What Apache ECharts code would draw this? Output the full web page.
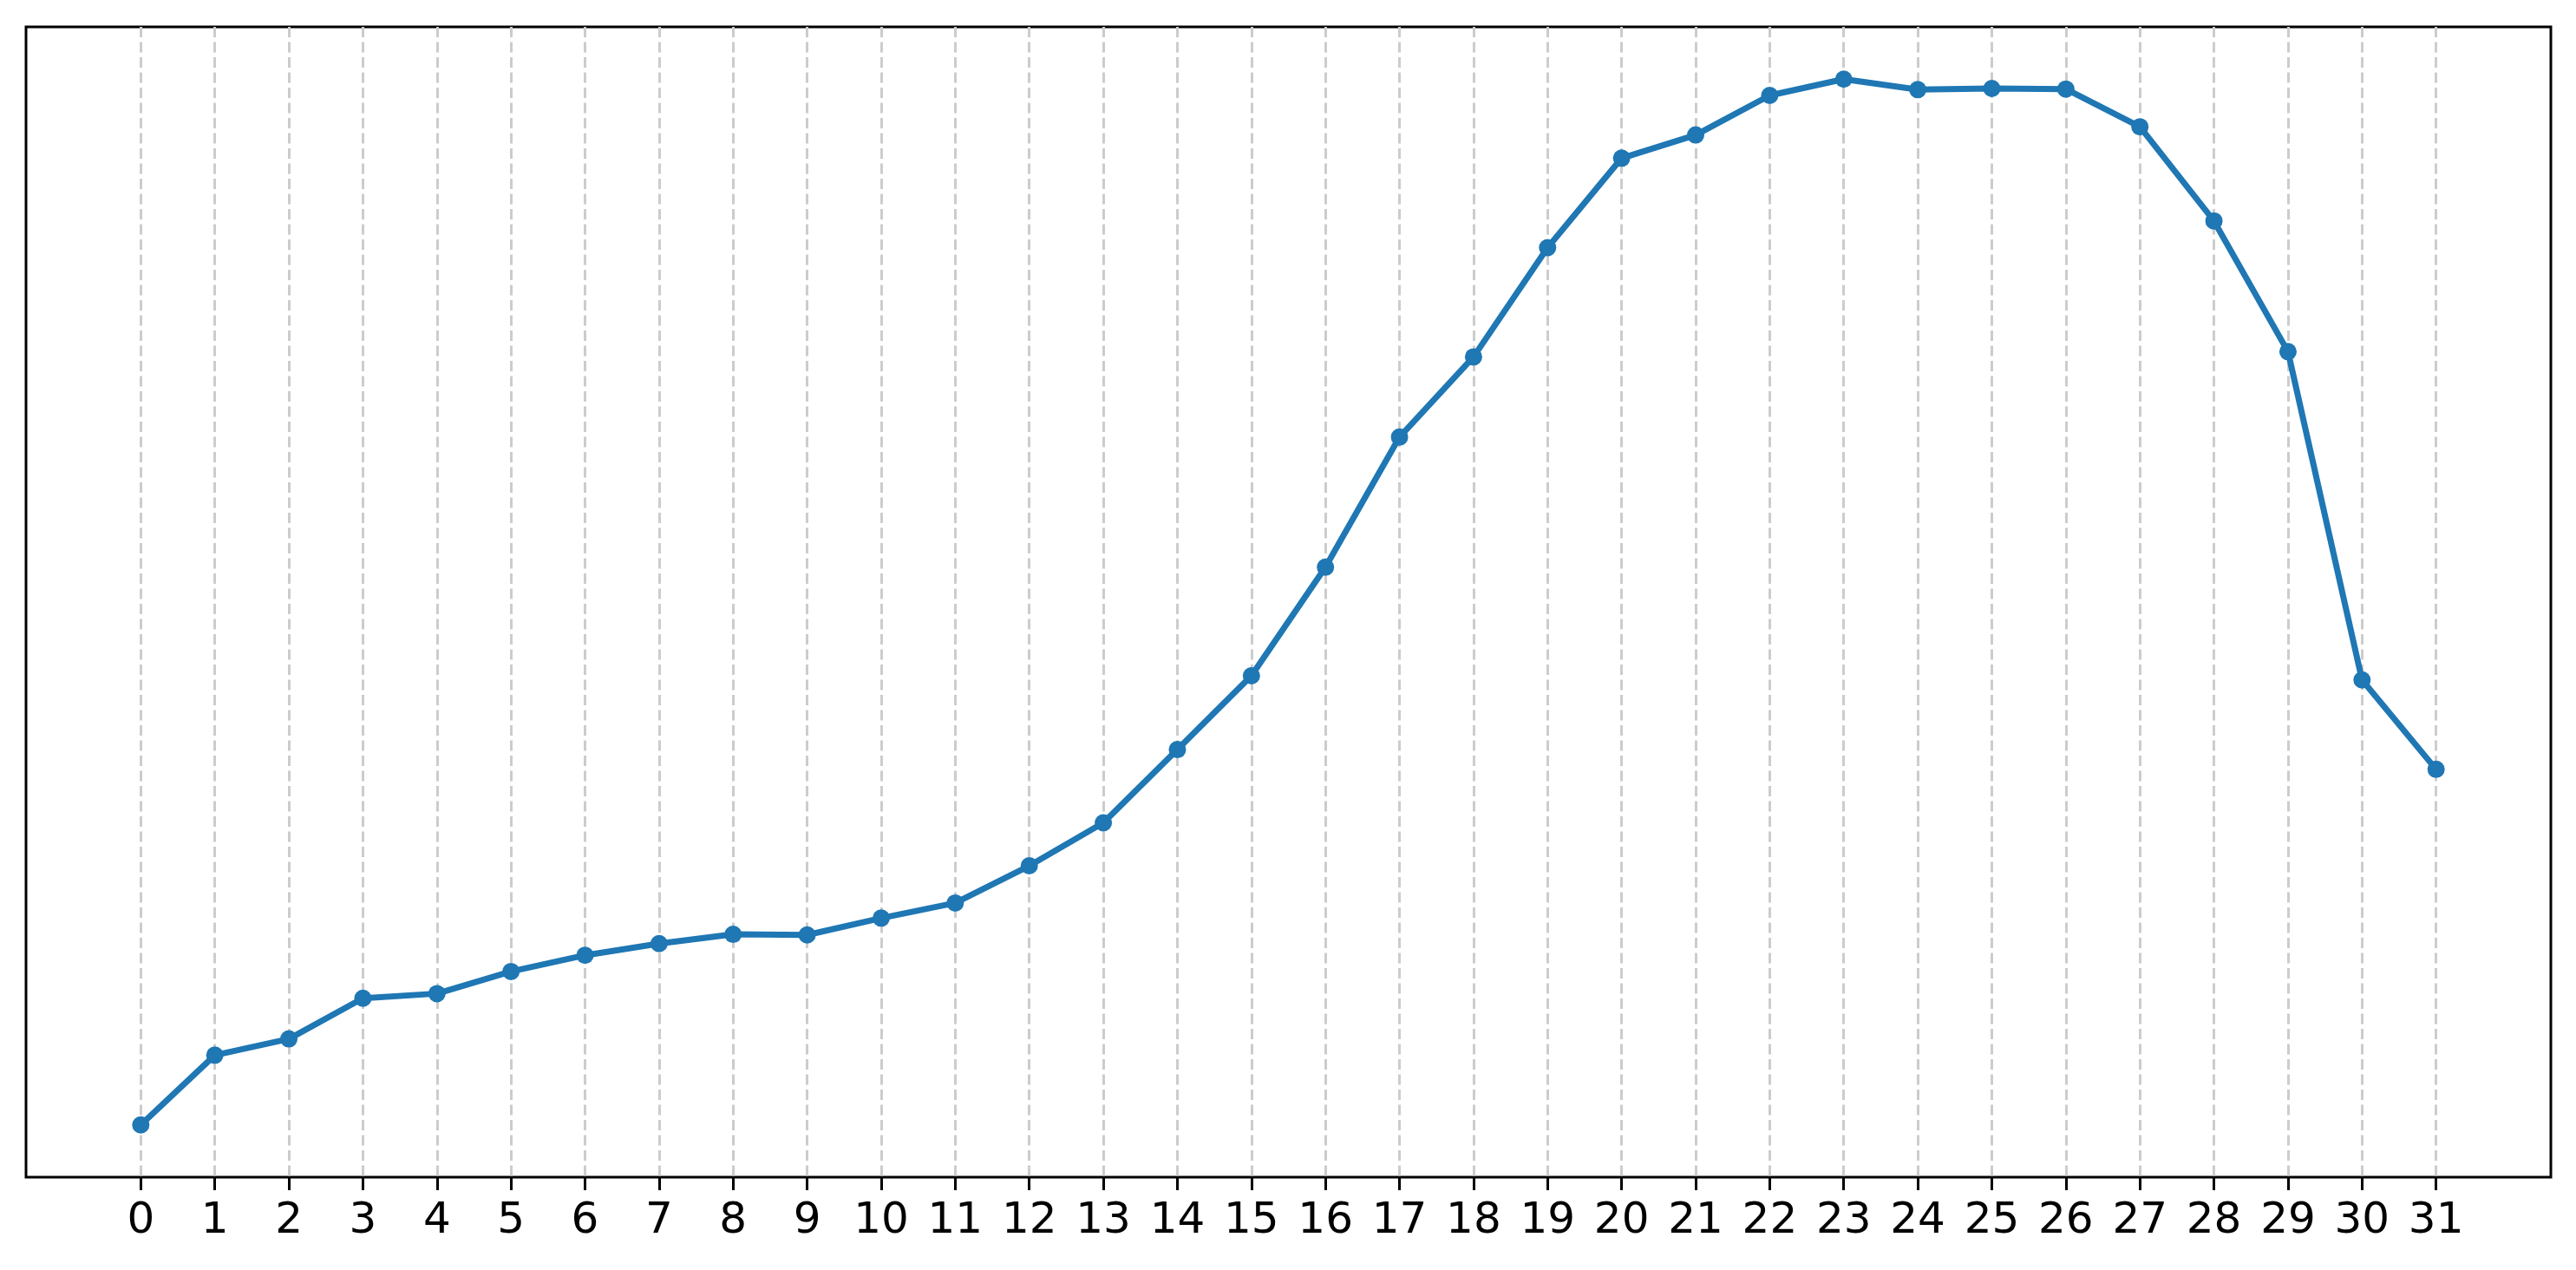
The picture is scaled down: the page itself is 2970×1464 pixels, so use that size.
<!DOCTYPE html>
<html>
<head>
<meta charset="utf-8">
<script src="https://cdn.jsdelivr.net/npm/echarts@6/dist/echarts.min.js"></script>
<style>
html,body{margin:0;padding:0;background:#fff;}
#chart{width:2970px;height:1464px;}
</style>
</head>
<body>
<div id="chart"></div>
<script>
const categories = [0,1,2,3,4,5,6,7,8,9,10,11,12,13,14,15,16,17,18,19,20,21,22,23,24,25,26,27,28,29,30,31];
const values = [10.0,16.0,17.4,20.9,21.3,23.2,24.6,25.6,26.4,26.35,27.8,29.1,32.3,36.0,42.3,48.65,58.0,69.2,76.1,85.5,93.2,95.2,98.6,100.0,99.1,99.2,99.15,95.9,87.8,76.55,48.3,40.6];

const xPad = (categories[categories.length-1] - categories[0]) * 0.05;
const vMin = Math.min(...values), vMax = Math.max(...values);
const yPad = (vMax - vMin) * 0.05;

const chart = echarts.init(document.getElementById('chart'), null, {renderer:'canvas'});
chart.setOption({
  backgroundColor:'#ffffff',
  animation:false,
  grid:{left:30, right:29, top:31, bottom:107, show:true, borderColor:'#000', borderWidth:3, backgroundColor:'transparent'},
  xAxis:{
    type:'value',
    min: categories[0] - xPad,
    max: categories[categories.length-1] + xPad,
    axisLine:{show:false},
    axisTick:{show:true, length:15, customValues:categories, lineStyle:{color:'#000', width:3}},
    axisLabel:{show:true, customValues:categories, margin:26, fontFamily:'DejaVu Sans', fontSize:50, color:'#000',
      formatter: v => String(v)},
    splitLine:{show:true, lineStyle:{color:'#cccccc', width:3, type:[12,5.5]}}
  },
  yAxis:{
    type:'value',
    min: vMin - yPad,
    max: vMax + yPad,
    axisLine:{show:false}, axisTick:{show:false}, axisLabel:{show:false}, splitLine:{show:false}
  },
  series:[{
    type:'line',
    data: categories.map((c,i)=>[c, values[i]]),
    symbol:'circle', symbolSize:20,
    lineStyle:{color:'#1f77b4', width:7},
    itemStyle:{color:'#1f77b4'},
    z:5
  }]
});
</script>
</body>
</html>
